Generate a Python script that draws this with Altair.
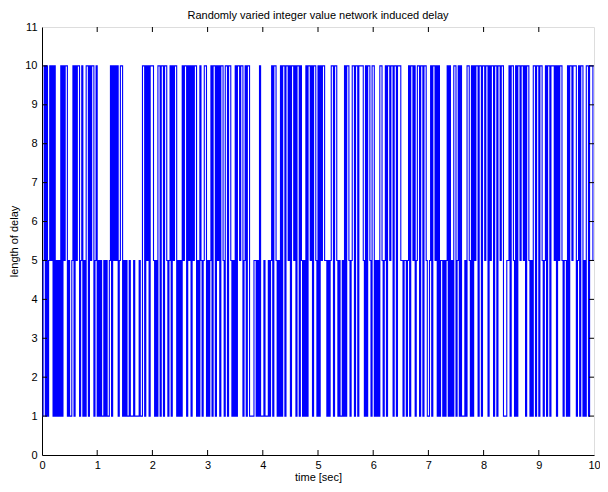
import altair as alt
import pandas as pd

# Delay levels, one string per second, one character per 0.02 s
# ("1" -> 1, "5" -> 5, "A" -> 10)
sec0 = "15A1A15A5A" "1A15151A1A" "5AA15115A1" "A5AA15A151" "AA1A5AA15A"
sec1 = "1515115151" "15A1A5A5A1" "5AA1515115" "1115111151" "1AA1A5A1AA"
sec2 = "A5151AA1AA" "1AA515A1A5" "AA15151A5A" "A1A5A1A5AA" "151A515AA1"
sec3 = "515A1AA1A5" "A1AA51AA1A" "A5151A1AA5" "AA15A1AA11" "1155151A11"
sec4 = "15111515A1" "AA5151A1AA" "1AA5A1AA5A" "1AA1A5151A" "1AA5A1AA51"
sec5 = "A1A5AA5515" "15AA1AA515" "1151A1AA51" "5AA1AA1AAA" "A51A1AA51A"
sec6 = "A15151AA51" "5A1AA5AA1A" "A1AAA55155" "15A1AA5A15" "AA1AA1AA51"
sec7 = "15A1AA5A1A" "1551515A1A" "151AA15A1A" "11151AA51A" "1A5AA1AA1A"
sec8 = "A5AA1A5AA1" "AA1AA5AA11" "155A1AA51A" "1AA5AA5A1A" "A5151AA1AA"
sec9 = "1AA515A1AA" "1AAA5A1A5A" "A51551A1AA" "5AAA15A1AA" "151AA1AAA5"
final_value = 5
sample_step = 0.02

x_ticks = [0, 1, 2, 3, 4, 5, 6, 7, 8, 9, 10]
y_ticks = [0, 1, 2, 3, 4, 5, 6, 7, 8, 9, 10, 11]

level_of = {"1": 1, "5": 5, "A": 10}
seconds = [sec0, sec1, sec2, sec3, sec4, sec5, sec6, sec7, sec8, sec9]
values = [level_of[c] for s in seconds for c in s] + [final_value]
times = [round(i * sample_step, 4) for i in range(len(values))]
df = pd.DataFrame({"t": times, "delay": values})

W, H = 552, 428
FONT = "Liberation Sans"

xs = alt.Scale(domain=[0, 10], nice=False, zero=False)
ys = alt.Scale(domain=[0, 11], nice=False, zero=False)

axis_common = dict(
    grid=False, ticks=False, format="d", labelOverlap=False, labelFlush=False,
    labelFont=FONT, titleFont=FONT, labelFontSize=11, titleFontSize=11,
    titleFontWeight="normal", labelColor="black", titleColor="black",
    domainColor="black", domainWidth=1,
)
x_axis = alt.Axis(values=x_ticks, title="time [sec]", labelPadding=4,
                  titlePadding=1, **axis_common)
y_axis = alt.Axis(values=y_ticks, title="length of delay", labelPadding=5,
                  titlePadding=5, **axis_common)

line = alt.Chart(df).mark_line(
    interpolate="step-after", color="#0000ff", strokeWidth=1.1, clip=True
).encode(
    x=alt.X("t:Q", scale=xs, axis=x_axis),
    y=alt.Y("delay:Q", scale=ys, axis=y_axis),
)

xt = pd.DataFrame({"v": x_ticks[1:-1]})
yt = pd.DataFrame({"v": y_ticks[1:-1]})
TL = 5
tick_x_bottom = alt.Chart(xt).mark_rule(color="black", strokeWidth=1).encode(
    x=alt.X("v:Q", scale=xs, axis=x_axis), y=alt.value(H), y2=alt.value(H - TL))
tick_x_top = alt.Chart(xt).mark_rule(color="black", strokeWidth=1).encode(
    x=alt.X("v:Q", scale=xs, axis=x_axis), y=alt.value(0), y2=alt.value(TL))
tick_y_left = alt.Chart(yt).mark_rule(color="black", strokeWidth=1).encode(
    y=alt.Y("v:Q", scale=ys, axis=y_axis), x=alt.value(0), x2=alt.value(TL))
tick_y_right = alt.Chart(yt).mark_rule(color="black", strokeWidth=1).encode(
    y=alt.Y("v:Q", scale=ys, axis=y_axis), x=alt.value(W), x2=alt.value(W - TL))

chart = alt.layer(line, tick_x_bottom, tick_x_top, tick_y_left, tick_y_right).properties(
    width=W, height=H,
    title=alt.TitleParams("Randomly varied integer value network induced delay",
                          fontSize=11, fontWeight="normal", font=FONT,
                          color="black", offset=0),
    autosize=alt.AutoSizeParams(type="none"),
    padding={"left": 34, "top": 19, "right": 6, "bottom": 29},
).configure_view(stroke="black", strokeWidth=1).configure(background="white")

chart.save("out.html", embed_options={"renderer": "svg", "actions": False})
